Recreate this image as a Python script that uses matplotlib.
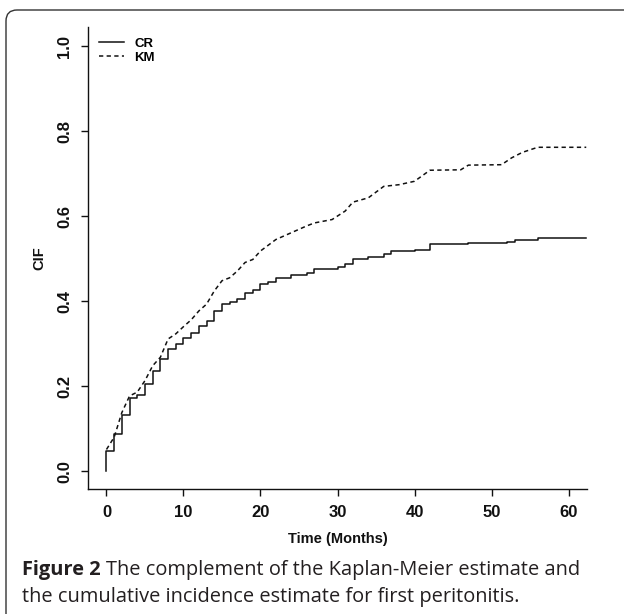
#!/usr/bin/env python3
"""CIF vs 1-KM for first peritonitis"""

import matplotlib
matplotlib.use('Agg')
import matplotlib.pyplot as plt
from matplotlib.patches import FancyBboxPatch

# competing-risks CIF, step function (months, estimate)
cr_time = [0, 0, 1, 2, 3, 4, 5, 6, 7, 8, 9, 10, 11, 12, 13, 14, 15, 16, 17,
           18, 19, 20, 21, 22, 24, 26, 27, 30, 31, 32, 34, 36, 37, 40, 42,
           47, 52, 53, 54.3, 56, 62.3]
cr_cif = [0.0, 0.047, 0.087, 0.133, 0.172, 0.180, 0.206, 0.235, 0.265, 0.287,
          0.299, 0.313, 0.325, 0.341, 0.353, 0.377, 0.393, 0.397, 0.405,
          0.420, 0.427, 0.441, 0.444, 0.454, 0.462, 0.467, 0.475, 0.480,
          0.487, 0.499, 0.505, 0.512, 0.519, 0.521, 0.535, 0.537, 0.539,
          0.543, 0.545, 0.549, 0.549]

# 1 - KM, dense small steps -> drawn through the visible vertices
km_time = [0, 1, 2, 3, 4, 5, 6, 7, 8, 9, 10, 11, 12, 13, 14, 15, 16, 17, 18,
           19, 20, 22, 24, 26, 27, 29.3, 31, 32, 34, 36, 38, 40, 42, 46, 47,
           51.3, 52.6, 54, 56, 62.3]
km_cif = [0.051, 0.080, 0.138, 0.177, 0.186, 0.213, 0.248, 0.268, 0.311,
          0.323, 0.340, 0.356, 0.377, 0.393, 0.424, 0.448, 0.455, 0.471,
          0.491, 0.498, 0.518, 0.545, 0.561, 0.577, 0.584, 0.592, 0.612,
          0.633, 0.643, 0.670, 0.674, 0.682, 0.708, 0.709, 0.720, 0.721,
          0.737, 0.750, 0.762, 0.762]

xticks = [0, 10, 20, 30, 40, 50, 60]
yticks = [0.0, 0.2, 0.4, 0.6, 0.8, 1.0]

W, H = 624, 614
fig = plt.figure(figsize=(W / 100, H / 100), dpi=100)
ax = fig.add_axes([88 / W, 125 / H, 499 / W, 462 / H])

ink = '#111111'
bold = dict(family=['Liberation Sans', 'DejaVu Sans'], weight='bold')
narrow = dict(family=['Liberation Sans Narrow', 'Liberation Sans'], weight='bold')

ax.plot(cr_time, cr_cif, drawstyle='steps-post', color=ink, lw=1.1, label='CR')
ax.plot(km_time, km_cif, color=ink, lw=1.1, dashes=(2.8, 2.2), label='KM')

ax.set_xlim(-2.4, 62.4)
ax.set_ylim(-0.042, 1.045)
ax.set_xticks(xticks)
ax.set_xticklabels([str(t) for t in xticks], fontsize=12, **bold)
ax.set_yticks(yticks)
ax.set_yticklabels(['%.1f' % t for t in yticks], fontsize=12, rotation=90,
                   va='center', **bold)
ax.tick_params(direction='out', length=5, width=1, colors=ink, pad=6.5)

for side in ['top', 'right']:
    ax.spines[side].set_visible(False)
for side in ['left', 'bottom']:
    ax.spines[side].set_linewidth(1)
    ax.spines[side].set_color(ink)

ax.set_xlabel('Time (Months)', fontsize=10.5, labelpad=9, color=ink, **narrow)
ax.set_ylabel('CIF', fontsize=10.5, labelpad=8, color=ink, **narrow)

leg = ax.legend(loc='upper left', bbox_to_anchor=(0.022, 0.977), frameon=False,
                handlelength=1.9, handletextpad=0.8, labelspacing=0.15,
                borderpad=0, borderaxespad=0,
                prop=dict(size=9.5, weight='bold', family='Liberation Sans'))

# rounded frame of the figure panel (open to the right and bottom)
frame = FancyBboxPatch((6, -60), 700, 604 + 60, boxstyle='round,pad=0,rounding_size=11',
                       transform=None, fill=False, edgecolor='#333333', lw=1.0)
fig.patches.append(frame)

# caption: bold figure number followed by regular text
cap = dict(family=['Open Sans', 'DejaVu Sans'], fontsize=14.4, color='#231f20')
fig.canvas.draw()
t1 = fig.text(22 / W, 1 - 570 / H, 'Figure 2', va='center', weight='bold', **cap)
bb = t1.get_window_extent(renderer=fig.canvas.get_renderer())
fig.text((bb.x1 + 5) / W, 1 - 570 / H,
         'The complement of the Kaplan-Meier estimate and', va='center', **cap)
fig.text(22 / W, 1 - 597 / H,
         'the cumulative incidence estimate for first peritonitis.', va='center', **cap)

fig.savefig('out.png', dpi=100)
